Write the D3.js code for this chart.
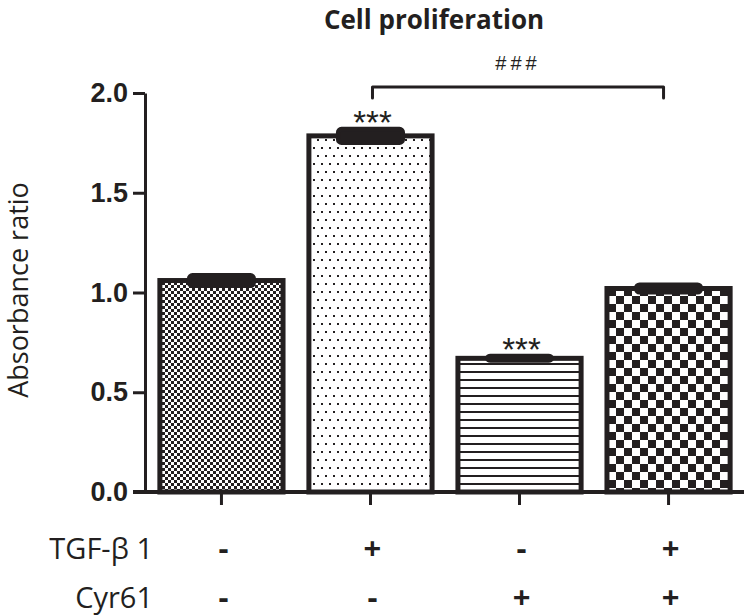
<!DOCTYPE html>
<html>
<head>
<meta charset="utf-8">
<script src="https://cdn.jsdelivr.net/npm/d3@7"></script>
<style>
  body { margin: 0; background: #fff; }
  svg { display: block; }
</style>
</head>
<body>
<script>
//Chart values
var groups = ["Control", "TGF-b1", "Cyr61", "TGF-b1 + Cyr61"];
var means = [1.06, 1.785, 0.67, 1.02];
var errors = [0.025, 0.033, 0.01, 0.018];
var stars = ["", "***", "***", ""];
var tgfRow = ["-", "+", "-", "+"];
var cyrRow = ["-", "-", "+", "+"];
var rowLabels = ["TGF-\u03b2 1", "Cyr61"];
var yTicks = [0, 0.5, 1.0, 1.5, 2.0];
var patterns = ["fineCheck", "dots", "hlines", "bigCheck"];

var ink = "#231f20";
var width = 744, height = 616;

var svg = d3.select("body")
  .append("svg")
  .attr("width", width)
  .attr("height", height);

//Fill patterns for the bars
var defs = svg.append("defs");

var p1 = defs.append("pattern").attr("id", "fineCheck")
  .attr("patternUnits", "userSpaceOnUse").attr("width", 6).attr("height", 6);
p1.append("rect").attr("width", 6).attr("height", 6).attr("fill", "#fff");
p1.append("rect").attr("x", 0).attr("y", 0).attr("width", 3).attr("height", 3).attr("fill", ink);
p1.append("rect").attr("x", 3).attr("y", 3).attr("width", 3).attr("height", 3).attr("fill", ink);

var p2 = defs.append("pattern").attr("id", "dots")
  .attr("patternUnits", "userSpaceOnUse").attr("width", 8).attr("height", 16);
p2.append("rect").attr("width", 8).attr("height", 16).attr("fill", "#fff");
p2.append("rect").attr("x", 1).attr("y", 3).attr("width", 2).attr("height", 2).attr("fill", ink);
p2.append("rect").attr("x", 5).attr("y", 11).attr("width", 2).attr("height", 2).attr("fill", ink);

var p3 = defs.append("pattern").attr("id", "hlines")
  .attr("patternUnits", "userSpaceOnUse").attr("width", 8).attr("height", 8);
p3.append("rect").attr("width", 8).attr("height", 8).attr("fill", "#fff");
p3.append("rect").attr("x", 0).attr("y", 3).attr("width", 8).attr("height", 2).attr("fill", ink);

var p4 = defs.append("pattern").attr("id", "bigCheck")
  .attr("patternUnits", "userSpaceOnUse").attr("width", 16).attr("height", 16);
p4.append("rect").attr("width", 16).attr("height", 16).attr("fill", "#fff");
p4.append("rect").attr("x", 0).attr("y", 0).attr("width", 8).attr("height", 8).attr("fill", ink);
p4.append("rect").attr("x", 8).attr("y", 8).attr("width", 8).attr("height", 8).attr("fill", ink);

//Scales
var xscale = d3.scaleBand()
  .domain(groups)
  .range([145, 745])
  .paddingInner(0.14)
  .paddingOuter(0.083);

var yscale = d3.scaleLinear()
  .domain([0, 2])
  .range([492, 93]);

//Bars
svg.selectAll("rect.bar")
  .data(groups).enter()
  .append("rect")
  .attr("class", "bar")
  .attr("x", function(d) { return xscale(d) + 2.5; })
  .attr("width", xscale.bandwidth() - 5)
  .attr("y", function(d, i) { return yscale(means[i]); })
  .attr("height", function(d, i) { return yscale(0) - yscale(means[i]); })
  .attr("fill", function(d, i) { return "url(#" + patterns[i] + ")"; })
  .attr("stroke", ink)
  .attr("stroke-width", 5);

//Error bars (drawn as thick caps)
svg.selectAll("rect.err")
  .data(groups).enter()
  .append("rect")
  .attr("class", "err")
  .attr("x", function(d) { return xscale(d) + xscale.bandwidth() / 4; })
  .attr("width", xscale.bandwidth() / 2)
  .attr("y", function(d, i) { return yscale(means[i] + errors[i]); })
  .attr("height", function(d, i) { return yscale(means[i] - errors[i]) - yscale(means[i] + errors[i]); })
  .attr("rx", 3)
  .attr("fill", ink)
  .attr("stroke", ink)
  .attr("stroke-width", 5)
  .attr("stroke-linejoin", "round");

//Y axis
var yAxis = svg.append("g")
  .attr("class", "y-axis")
  .attr("transform", "translate(145,0)")
  .call(d3.axisLeft(yscale).tickValues(yTicks).tickFormat(d3.format(".1f"))
    .tickSize(12).tickSizeOuter(0).tickPadding(5));
yAxis.select(".domain").attr("stroke", ink).attr("stroke-width", 3);
yAxis.selectAll(".tick line").attr("stroke", ink).attr("stroke-width", 3);
yAxis.selectAll(".tick text")
  .attr("fill", ink)
  .style("font-family", "'Liberation Sans', Arial, sans-serif")
  .style("font-weight", "bold")
  .style("font-size", "27px");

//X axis
var xAxis = svg.append("g")
  .attr("class", "x-axis")
  .attr("transform", "translate(0," + yscale(0) + ")")
  .call(d3.axisBottom(xscale).tickFormat("").tickSize(13).tickSizeOuter(0));
xAxis.select(".domain").attr("stroke", ink).attr("stroke-width", 4)
  .attr("d", "M133,0H744");
xAxis.selectAll(".tick line").attr("stroke", ink).attr("stroke-width", 3);

//Significance stars
svg.selectAll("text.star")
  .data(groups).enter()
  .append("text")
  .attr("class", "star")
  .attr("x", function(d) { return xscale(d) + xscale.bandwidth() / 2 + 2; })
  .attr("y", function(d, i) { return yscale(means[i] + errors[i]) + 5; })
  .attr("text-anchor", "middle")
  .attr("fill", ink)
  .style("font-family", "'Liberation Sans', Arial, sans-serif")
  .style("font-size", "33px")
  .text(function(d, i) { return stars[i]; });

//Bracket between TGF-b1 and TGF-b1 + Cyr61
var bx0 = xscale(groups[1]) + xscale.bandwidth() / 2 + 2;
var bx1 = xscale(groups[3]) + xscale.bandwidth() / 2 - 5;
svg.append("path")
  .attr("d", "M" + bx0 + ",98V87H" + bx1 + "V98")
  .attr("fill", "none")
  .attr("stroke", ink)
  .attr("stroke-width", 3)
  .attr("stroke-linejoin", "round")
  .attr("stroke-linecap", "round");
svg.append("text")
  .attr("x", (bx0 + bx1) / 2)
  .attr("y", 70)
  .attr("text-anchor", "middle")
  .attr("fill", ink)
  .style("font-family", "'Liberation Sans', Arial, sans-serif")
  .style("font-size", "20px")
  .style("letter-spacing", "4px")
  .text("###");

//Title
svg.append("text")
  .attr("x", 434)
  .attr("y", 29)
  .attr("text-anchor", "middle")
  .attr("fill", ink)
  .style("font-family", "'Open Sans', sans-serif")
  .style("font-weight", "bold")
  .style("font-size", "26px")
  .text("Cell proliferation");

//Y label
svg.append("text")
  .attr("transform", "translate(28,290) rotate(-90)")
  .attr("text-anchor", "middle")
  .attr("fill", ink)
  .style("font-family", "'Open Sans', sans-serif")
  .style("font-size", "27px")
  .text("Absorbance ratio");

//Treatment table under the bars
var rows = [tgfRow, cyrRow];
var rowY = [559, 608];
rows.forEach(function(row, r) {
  svg.append("text")
    .attr("x", 153)
    .attr("y", rowY[r])
    .attr("text-anchor", "end")
    .attr("fill", ink)
    .style("font-family", "'Open Sans', sans-serif")
    .style("font-size", "29px")
    .text(rowLabels[r]);
  svg.selectAll("text.row" + r)
    .data(groups).enter()
    .append("text")
    .attr("class", "row" + r)
    .attr("x", function(d) { return xscale(d) + xscale.bandwidth() / 2 + 2; })
    .attr("y", rowY[r])
    .attr("text-anchor", "middle")
    .attr("fill", ink)
    .style("font-family", "'Open Sans', sans-serif")
    .style("font-weight", "bold")
    .style("font-size", "31px")
    .text(function(d, i) { return row[i]; });
});
</script>
</body>
</html>
